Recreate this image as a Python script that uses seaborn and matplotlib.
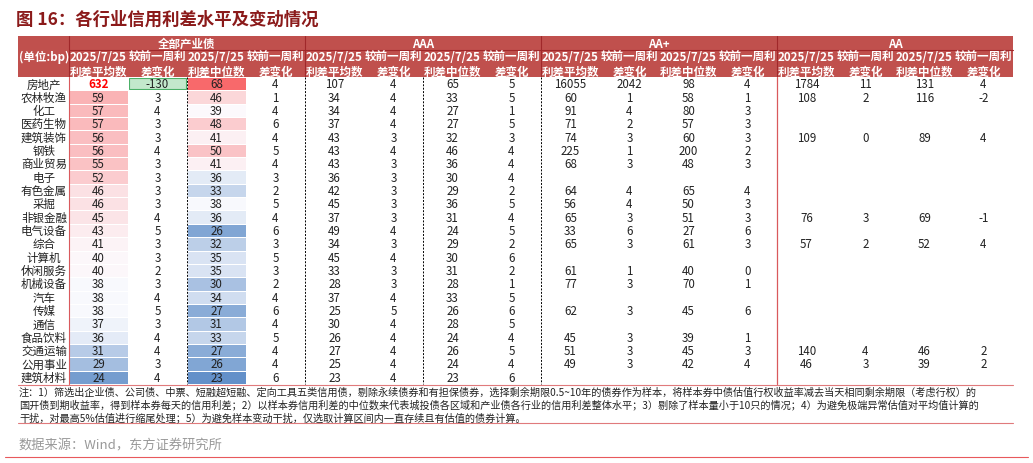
import numpy as np
import pandas as pd
import matplotlib
matplotlib.use("Agg")
import matplotlib.pyplot as plt
import seaborn as sns
from matplotlib.colors import LinearSegmentedColormap
from matplotlib.patches import Rectangle

sns.set_theme(style="white")
plt.rcParams['font.family'] = ['Noto Sans CJK SC', 'DejaVu Sans']

industries = ["房地产","农林牧渔","化工","医药生物","建筑装饰","钢铁","商业贸易","电子","有色金属","采掘",
              "非银金融","电气设备","综合","计算机","休闲服务","机械设备","汽车","传媒","通信","食品饮料",
              "交通运输","公用事业","建筑材料"]
N = None
all_mean = [632,59,57,57,56,56,55,52,46,46,45,43,41,40,40,38,38,38,37,36,31,29,24]
all_mean_chg = [-130,3,4,3,3,4,3,3,3,3,4,5,3,3,2,3,4,5,3,4,4,3,4]
all_med = [68,46,39,48,41,50,41,36,33,38,36,26,32,35,35,30,34,27,31,33,27,26,23]
all_med_chg = [4,1,4,6,4,5,4,3,2,5,4,6,3,5,3,2,4,6,4,5,4,4,6]
aaa_mean = [107,34,34,37,43,43,43,36,42,45,37,49,34,45,33,28,37,25,30,26,27,25,23]
aaa_mean_chg = [4,4,4,4,3,4,3,3,3,3,3,4,3,4,3,3,4,5,4,4,4,4,4]
aaa_med = [65,33,27,27,32,46,36,30,29,36,31,24,29,30,31,28,33,26,28,24,26,24,23]
aaa_med_chg = [5,5,1,5,3,4,4,4,2,5,4,5,2,6,2,1,5,6,5,4,5,4,6]
aap_mean = [16055,60,91,71,74,225,68,N,64,56,65,33,65,N,61,77,N,62,N,45,51,49,N]
aap_mean_chg = [2042,1,4,2,3,1,3,N,4,4,3,6,3,N,1,3,N,3,N,3,3,3,N]
aap_med = [98,58,80,57,60,200,48,N,65,50,51,27,61,N,40,70,N,45,N,39,45,42,N]
aap_med_chg = [4,1,3,3,3,2,3,N,4,3,3,6,3,N,0,1,N,6,N,1,3,4,N]
aa_mean = [1784,108,N,N,109,N,N,N,N,N,76,N,57,N,N,N,N,N,N,N,140,46,N]
aa_mean_chg = [11,2,N,N,0,N,N,N,N,N,3,N,2,N,N,N,N,N,N,N,4,3,N]
aa_med = [131,116,N,N,89,N,N,N,N,N,69,N,52,N,N,N,N,N,N,N,46,39,N]
aa_med_chg = [4,-2,N,N,4,N,N,N,N,N,-1,N,4,N,N,N,N,N,N,N,2,2,N]

groups = ["全部产业债","AAA","AA+","AA"]
sub_headers = ["2025/7/25\n利差平均数","较前一周利\n差变化","2025/7/25\n利差中位数","较前一周利\n差变化"]

cols = [all_mean,all_mean_chg,all_med,all_med_chg,aaa_mean,aaa_mean_chg,aaa_med,aaa_med_chg,
        aap_mean,aap_mean_chg,aap_med,aap_med_chg,aa_mean,aa_mean_chg,aa_med,aa_med_chg]
nr, nc = len(industries), len(cols)
labels = [["" if c[i] is None else str(c[i]) for c in cols] for i in range(nr)]

def scale(v, mid, rmax, bmin):
    if v > 200:
        return np.nan
    return (v - mid) / (rmax - mid) if v >= mid else -(mid - v) / (mid - bmin)
vals = np.full((nr, nc), np.nan)
for i in range(nr):
    vals[i, 0] = scale(all_mean[i], 38.5, 80, 21)
    vals[i, 2] = scale(all_med[i], 38.5, 68, 22)
vals = np.clip(vals, -1, 1)

cmap = LinearSegmentedColormap.from_list("bwr_x", ["#5a8ac6", "#fcfcff", "#f8696b"])

W, H = 1033, 464
fig = plt.figure(figsize=(W/100, H/100), dpi=100)
x0, x1, y0, y1 = 69, 1013, 78, 385
cw = (x1 - x0) / nc
rh = (y1 - y0) / nr

ov = fig.add_axes([0, 0, 1, 1])
ov.set_xlim(0, W); ov.set_ylim(H, 0); ov.axis("off")
ov.add_patch(Rectangle((x0+cw+1, y0+1), cw-2, rh-2, facecolor="#c3e8cc", edgecolor="#4cb068", lw=0.8))

ax = fig.add_axes([x0/W, 1-y1/H, (x1-x0)/W, (y1-y0)/H])
sns.heatmap(pd.DataFrame(vals), ax=ax, cmap=cmap, vmin=-1, vmax=1, cbar=False,
            annot=False, linewidths=0.6, linecolor="white")
ax.set_xticks([]); ax.set_yticks([])
ax.patch.set_alpha(0)
for i in range(nr):
    for j in range(nc):
        s = labels[i][j]
        if not s:
            continue
        kw = dict(color="#222222")
        if s == "632":
            kw = dict(color="#ff0000", fontweight="bold")
        ax.text(j+0.5, i+0.5, s, ha="center", va="center", fontsize=8.3, **kw)

ov.text(16, 20, "图 16：各行业信用利差水平及变动情况", fontsize=12.5, fontweight="bold", color="#8b1a1a", va="center")
hc = "#c0504d"
ov.add_patch(Rectangle((18, 37), x1-18, 41, facecolor=hc, edgecolor="none"))
ov.text(44, 57, "(单位:bp)", color="white", fontsize=8.3, fontweight="bold", ha="center", va="center")
for g, name in enumerate(groups):
    gx = x0 + g*4*cw
    ov.plot([gx, gx], [37, 78], color="#a0282a", lw=0.8)
    ov.text(gx + 2*cw, 44, name, color="white", fontsize=8.3, fontweight="bold", ha="center", va="center")
    for k, sh in enumerate(sub_headers):
        ov.text(gx + (k+0.5)*cw, 65, sh, color="white", fontsize=8.3, fontweight="bold",
                ha="center", va="center", linespacing=1.2)
ov.plot([x0, x1], [51, 51], color="#a0282a", lw=0.8)
for i, name in enumerate(industries):
    ov.text(44, y0 + (i+0.5)*rh, name, fontsize=8.3, ha="center", va="center", color="#222222")

ln = fig.add_axes([0, 0, 1, 1])
ln.set_xlim(0, W); ln.set_ylim(H, 0); ln.axis("off")
ln.plot([x0, x0], [y0, y1], color="#d9595c", lw=0.8)
for k in [2, 4, 6, 8]:
    ln.plot([x0+k*cw, x0+k*cw], [y0, y1], color="black", lw=0.7, ls=(0, (2, 1.5)))
ln.plot([x0+12*cw, x0+12*cw], [y0, y1], color="#d9595c", lw=0.9)
ln.plot([18, x1], [y1+1, y1+1], color="#e07a7c", lw=0.8)

note = ("注：1）筛选出企业债、公司债、中票、短融超短融、定向工具五类信用债，剔除永续债券和有担保债券，选择剩余期限0.5~10年的债券作为样本，将样本券中债估值行权收益率减去当天相同剩余期限（考虑行权）的\n"
        "国开债到期收益率，得到样本券每天的信用利差；2）以样本券信用利差的中位数来代表城投债各区域和产业债各行业的信用利差整体水平；3）剔除了样本量小于10只的情况；4）为避免极端异常估值对平均值计算的\n"
        "干扰，对最高5%估值进行缩尾处理；5）为避免样本变动干扰，仅选取计算区间内一直存续且有估值的债券计算。")
ln.text(19, 387, note, fontsize=7.3, va="top", ha="left", color="#222222", linespacing=1.25)
ln.plot([18, x1], [424, 424], color="#e07a7c", lw=0.8)
ln.text(18, 446, "数据来源：Wind，东方证券研究所", fontsize=9.5, color="#999999", va="center")
ln.plot([5, 1028], [458, 458], color="#e8595c", lw=0.8)

fig.savefig("out.png", dpi=100)
